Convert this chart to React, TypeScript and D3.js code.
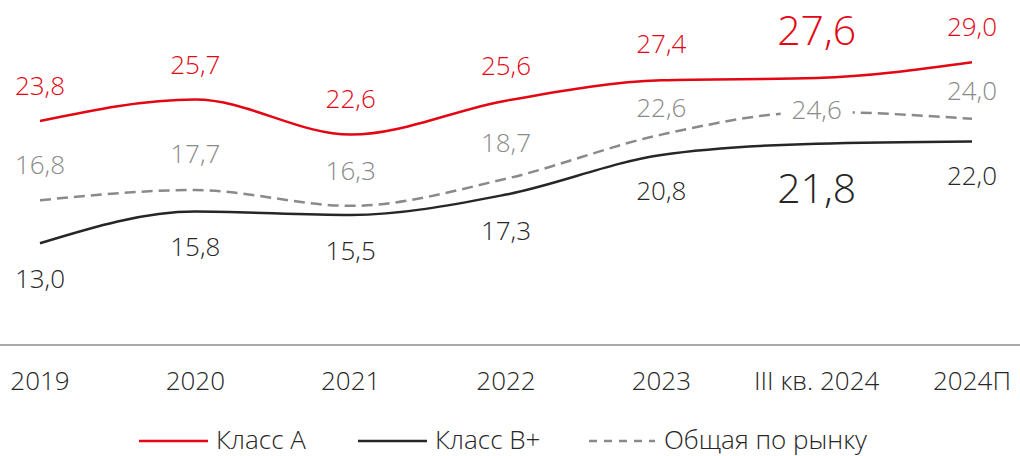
import * as d3 from 'd3'

const CATEGORIES = ['2019', '2020', '2021', '2022', '2023', 'III кв. 2024', '2024П']
const CLASS_A = [23.8, 25.7, 22.6, 25.6, 27.4, 27.6, 29.0]
const CLASS_B = [13.0, 15.8, 15.5, 17.3, 20.8, 21.8, 22.0]
const MARKET = [16.8, 17.7, 16.3, 18.7, 22.6, 24.6, 24.0]

const W = 1020
const H = 456
const AXIS_Y = 345
const FONT = '"Open Sans", sans-serif'

const RED = '#e30613'
const BLACK = '#262626'
const GREY = '#8a8a8a'

// label baseline offsets (px) relative to the point, per category
const DY_A = [-26, -26, -27, -26, -27, -33, -26]
const DY_B = [45, 44, 45, 45, 45, 59, 44]
const DY_M = [-26, -27, -26, -27, -18, 7, -19]
const BIG = 5 // highlighted category index

const fmt = (v: number) => v.toFixed(1).replace('.', ',')

export default function App() {
  const x = d3.scalePoint<string>().domain(CATEGORIES).range([40, 972])
  const y = d3.scaleLinear().domain([4, 34.5]).range([AXIS_Y, 0])

  const line = d3.line<number>()
    .x((_, i) => x(CATEGORIES[i]) as number)
    .y(d => y(d))
    .curve(d3.curveMonotoneX)

  const series = [
    { key: 'a', values: CLASS_A, color: RED, dash: undefined, dy: DY_A, label: 'Класс А' },
    { key: 'b', values: CLASS_B, color: BLACK, dash: undefined, dy: DY_B, label: 'Класс В+' },
    { key: 'm', values: MARKET, color: GREY, dash: '11,6', dy: DY_M, label: 'Общая по рынку' },
  ]

  const legendX = [139, 358, 589]

  return (
    <svg
      width={W}
      height={H}
      style={{ position: 'absolute', left: 0, top: 0, fontFamily: FONT, fontWeight: 350 }}
    >
      <rect width={W} height={H} fill="#fff" />

      {/* axis baseline */}
      <line x1={0} x2={W} y1={AXIS_Y} y2={AXIS_Y} stroke="#8c8c8c" strokeWidth={1.5} />

      {/* lines */}
      {series.map(s => (
        <path
          key={s.key}
          d={line(s.values) ?? ''}
          fill="none"
          stroke={s.color}
          strokeWidth={2.5}
          strokeDasharray={s.dash}
        />
      ))}

      {/* value labels */}
      {series.map(s =>
        s.values.map((v, i) => {
          const cx = x(CATEGORIES[i]) as number
          const cy = y(v) + s.dy[i]
          const big = i === BIG && s.key !== 'm'
          const size = big ? 41 : 26
          const onLine = i === BIG && s.key === 'm'
          return (
            <g key={s.key + i}>
              {onLine && <rect x={cx - 36} y={cy - 22} width={72} height={28} fill="#fff" />}
              <text
                x={cx}
                y={cy}
                textAnchor="middle"
                fontSize={size}
                fill={s.color}
              >
                {fmt(v)}
              </text>
            </g>
          )
        })
      )}

      {/* category labels */}
      {CATEGORIES.map(c => (
        <text key={c} x={x(c)} y={390} textAnchor="middle" fontSize={26} fill={BLACK}>
          {c}
        </text>
      ))}

      {/* legend */}
      {series.map((s, i) => (
        <g key={'lg' + s.key} transform={`translate(${legendX[i]},441)`}>
          <line
            x1={0}
            x2={s.dash ? 66 : 69}
            y1={0}
            y2={0}
            stroke={s.color}
            strokeWidth={2.5}
            strokeDasharray={s.dash ? '8,7' : undefined}
          />
          <text x={s.dash ? 75 : 77} y={8} fontSize={26} fill={BLACK}>
            {s.label}
          </text>
        </g>
      ))}
    </svg>
  )
}
